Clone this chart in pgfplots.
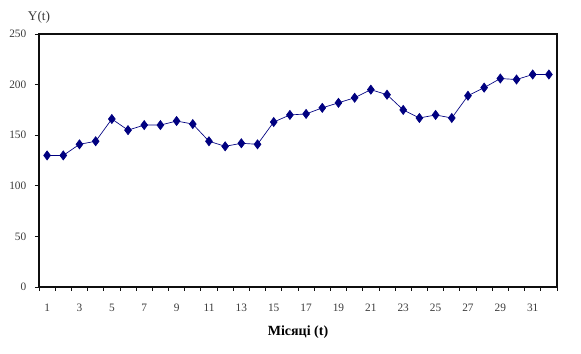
\documentclass[border=0pt]{standalone}
\usepackage{fontspec}
\setmainfont{Liberation Serif}
\usepackage{pgfplots}
\pgfplotsset{compat=1.18}
\definecolor{navy}{RGB}{0,0,128}
\definecolor{ticktext}{RGB}{60,60,60}
\definecolor{framecol}{RGB}{15,15,15}
\begin{document}
\begin{tikzpicture}
\begin{axis}[
  name=ax,
  scale only axis,
  width=388.5pt, height=189.75pt,
  xmin=0.5, xmax=32.5, ymin=0, ymax=250,
  xtick={1,3,...,31},
  minor xtick={0.5,1.5,...,32.5},
  ytick={0,50,...,250},
  major x tick style={draw=none},
  tick align=outside,
  xtick pos=bottom, ytick pos=left,
  major tick length=3pt,
  minor tick length=3pt,
  axis line style={line width=1pt, framecol},
  every tick/.style={framecol, line width=0.6pt},
  tick label style={font=\fontsize{8.5}{10}\selectfont, text=ticktext},
  /pgf/number format/assume math mode=true,
  xticklabel style={yshift=-6pt},
  yticklabel style={xshift=-3pt},
  xlabel={\textbf{Місяці (t)}},
  xlabel style={font=\fontsize{10.5}{12}\selectfont, yshift=-4pt},
  clip=false,
]
\addplot[color=navy, line width=0.5pt, mark=diamond*, mark size=3.4pt, mark options={fill=navy, draw=navy}]
coordinates {
(1,130)(2,130)(3,141)(4,144)(5,166)(6,155)(7,160)(8,160)(9,164)(10,161)
(11,144)(12,139)(13,142)(14,141)(15,163)(16,170)(17,171)(18,177)(19,182)(20,187)
(21,195)(22,190)(23,175)(24,167)(25,170)(26,167)(27,189)(28,197)(29,206)(30,205)
(31,210)(32,210)
};
\node[font=\fontsize{10}{12}\selectfont, text=ticktext] at (rel axis cs:0,1) [yshift=12.75pt] {Y(t)};
\end{axis}
\draw[framecol, line width=1pt] (ax.north west) -- (ax.north east) -- (ax.south east);
\path (ax.south west) ++(-29.25pt,-50.25pt) coordinate (bl);
\path (ax.north east) ++(18pt,25.5pt) coordinate (tr);
\path[use as bounding box] (bl) rectangle (tr);
\end{tikzpicture}
\end{document}
